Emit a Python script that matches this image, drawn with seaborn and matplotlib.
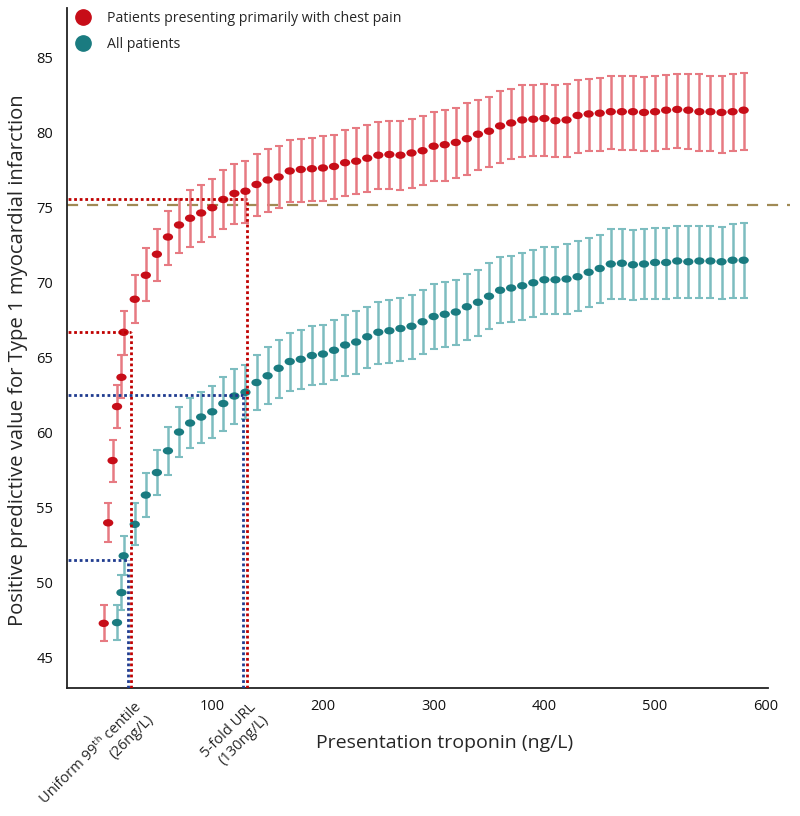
import numpy as np
import pandas as pd
import matplotlib
matplotlib.use("Agg")
import matplotlib.pyplot as plt
import matplotlib.transforms as mtransforms
import seaborn as sns
from matplotlib.path import Path
from matplotlib.lines import Line2D

# --- datos (PPV %, IC95) ---
red_x = [2, 6, 10, 14, 18, 20,
         30, 40, 50, 60, 70, 80, 90, 100, 110, 120, 130, 140, 150, 160, 170, 180, 190,
         200, 210, 220, 230, 240, 250, 260, 270, 280, 290, 300, 310, 320, 330, 340, 350,
         360, 370, 380, 390, 400, 410, 420, 430, 440, 450, 460, 470, 480, 490, 500, 510,
         520, 530, 540, 550, 560, 570, 580]
red_ppv = [47.3, 54.0, 58.15, 61.75, 63.7, 66.7,
           68.9, 70.5, 71.9, 73.05, 73.85, 74.3, 74.65, 75.0, 75.55, 75.95, 76.1, 76.55,
           76.85, 77.05, 77.45, 77.55, 77.6, 77.65, 77.75, 78.0, 78.1, 78.3, 78.5, 78.55,
           78.5, 78.65, 78.8, 79.1, 79.2, 79.35, 79.6, 79.9, 80.1, 80.45, 80.65, 80.85,
           80.9, 80.95, 80.8, 80.85, 81.15, 81.25, 81.3, 81.4, 81.4, 81.4, 81.35, 81.4,
           81.5, 81.55, 81.5, 81.4, 81.4, 81.35, 81.4, 81.5]
red_lo = [46.1, 52.75, 56.75, 60.3, 62.3, 65.2,
          67.3, 68.8, 70.1, 71.2, 71.95, 72.4, 72.7, 73.05, 73.55, 73.9, 74.0, 74.45,
          74.7, 74.95, 75.35, 75.4, 75.45, 75.45, 75.6, 75.75, 75.9, 76.05, 76.25, 76.25,
          76.2, 76.3, 76.5, 76.75, 76.8, 76.95, 77.2, 77.5, 77.7, 78.0, 78.25, 78.4,
          78.45, 78.45, 78.35, 78.35, 78.65, 78.8, 78.8, 78.9, 78.85, 78.85, 78.75, 78.8,
          78.9, 78.95, 78.9, 78.8, 78.75, 78.65, 78.8, 78.85]
red_hi = [48.5, 55.35, 59.5, 63.2, 65.2, 68.15,
          70.5, 72.3, 73.6, 74.8, 75.6, 76.2, 76.5, 76.9, 77.5, 77.9, 78.1, 78.6,
          78.9, 79.1, 79.5, 79.6, 79.65, 79.8, 79.85, 80.15, 80.3, 80.5, 80.7, 80.8,
          80.75, 80.9, 81.1, 81.4, 81.5, 81.65, 81.95, 82.2, 82.4, 82.75, 82.9, 83.15,
          83.2, 83.25, 83.2, 83.25, 83.5, 83.6, 83.65, 83.8, 83.75, 83.75, 83.7, 83.8,
          83.85, 83.9, 83.9, 83.9, 83.8, 83.8, 83.9, 84.0]

teal_x = [14, 18, 20,
          30, 40, 50, 60, 70, 80, 90, 100, 110, 120, 130, 140, 150, 160, 170, 180, 190,
          200, 210, 220, 230, 240, 250, 260, 270, 280, 290, 300, 310, 320, 330, 340, 350,
          360, 370, 380, 390, 400, 410, 420, 430, 440, 450, 460, 470, 480, 490, 500, 510,
          520, 530, 540, 550, 560, 570, 580]
teal_ppv = [47.35, 49.35, 51.8,
            53.9, 55.85, 57.35, 58.8, 60.05, 60.65, 61.05, 61.4, 61.95, 62.45, 62.7, 63.35,
            63.8, 64.3, 64.75, 64.9, 65.15, 65.25, 65.5, 65.85, 66.05, 66.4, 66.7, 66.8,
            66.95, 67.1, 67.4, 67.75, 67.9, 68.05, 68.4, 68.7, 69.1, 69.5, 69.65, 69.8,
            70.0, 70.2, 70.2, 70.25, 70.4, 70.7, 70.95, 71.25, 71.3, 71.2, 71.25, 71.35,
            71.35, 71.45, 71.4, 71.45, 71.45, 71.4, 71.5, 71.5]
teal_lo = [46.2, 48.2, 50.5,
           52.5, 54.4, 55.85, 57.2, 58.4, 59.0, 59.3, 59.65, 60.15, 60.6, 60.9, 61.5,
           61.95, 62.35, 62.8, 62.9, 63.2, 63.25, 63.5, 63.8, 63.95, 64.3, 64.6, 64.65,
           64.8, 64.95, 65.25, 65.6, 65.7, 65.85, 66.2, 66.45, 66.9, 67.3, 67.4, 67.55,
           67.75, 67.95, 67.95, 67.95, 68.1, 68.4, 68.65, 68.9, 68.95, 68.85, 68.9, 68.95,
           68.95, 69.0, 69.0, 69.0, 69.0, 68.9, 69.0, 69.0]
teal_hi = [48.5, 50.5, 53.1,
           55.3, 57.35, 58.85, 60.4, 61.7, 62.3, 62.75, 63.1, 63.7, 64.25, 64.5, 65.2,
           65.7, 66.2, 66.65, 66.85, 67.1, 67.2, 67.5, 67.85, 68.15, 68.4, 68.75, 68.85,
           69.0, 69.2, 69.55, 69.9, 70.05, 70.2, 70.6, 70.85, 71.3, 71.7, 71.8, 72.0,
           72.2, 72.4, 72.4, 72.55, 72.75, 72.95, 73.2, 73.55, 73.55, 73.5, 73.6, 73.65,
           73.65, 73.8, 73.75, 73.8, 73.8, 73.7, 73.9, 73.95]

groups = ["Patients presenting primarily with chest pain", "All patients"]

# umbrales de referencia y PPV en cada uno
ref_thresholds = [26, 130]
ref_label_l1 = ["Uniform 99ᵗʰ centile", "5-fold URL"]
ref_label_l2 = ["(26ng/L)", "(130ng/L)"]
ref_ppv_chest = [66.7, 75.6]
ref_ppv_all = [51.5, 62.5]
target_ppv = 75.2

xticks = [100, 200, 300, 400, 500, 600]
yticks = [45, 50, 55, 60, 65, 70, 75, 80, 85]

RED = "#C70D18"
RED_BAR = "#E77A82"
TEAL = "#1A7B80"
TEAL_BAR = "#7DBDC0"
RED_REF = "#C00000"
BLUE_REF = "#1F3B8F"
BROWN = "#A08A55"

sns.set_theme(style="white")
plt.rcParams["font.family"] = ["Open Sans", "DejaVu Sans"]

df = pd.concat([
    pd.DataFrame({"x": red_x, "ppv": red_ppv, "lo": red_lo, "hi": red_hi, "grupo": groups[0]}),
    pd.DataFrame({"x": teal_x, "ppv": teal_ppv, "lo": teal_lo, "hi": teal_hi, "grupo": groups[1]}),
])

fig = plt.figure(figsize=(8, 8.16), dpi=100)
ax = fig.add_axes([0.084, 0.157, 0.876, 0.833])

# marcador ovalado (más ancho que alto)
circ = Path.unit_circle()
oval = Path(circ.vertices * np.array([1.0, 0.72]), circ.codes)

for g, bar_col in zip(groups, [RED_BAR, TEAL_BAR]):
    sub = df[df["grupo"] == g]
    ax.errorbar(sub["x"], sub["ppv"],
                yerr=[sub["ppv"] - sub["lo"], sub["hi"] - sub["ppv"]],
                fmt="none", ecolor=bar_col, elinewidth=1.8, capsize=3.2,
                capthick=1.5, zorder=2)

sns.scatterplot(data=df, x="x", y="ppv", hue="grupo", palette=[RED, TEAL],
                marker=oval, s=55, edgecolor="none", legend=False, ax=ax, zorder=3)

# líneas de referencia (la azul un poco desplazada para que se vean ambas)
dot = (0, (1, 1))
for thr, pc, pa in zip(ref_thresholds, ref_ppv_chest, ref_ppv_all):
    ax.plot([-40, thr + 1], [pc, pc], color=RED_REF, lw=2, ls=dot, zorder=4)
    ax.plot([thr + 1, thr + 1], [43, pc], color=RED_REF, lw=2, ls=dot, zorder=4)
    ax.plot([-40, thr - 2], [pa, pa], color=BLUE_REF, lw=2, ls=dot, zorder=4)
    ax.plot([thr - 2, thr - 2], [43, pa], color=BLUE_REF, lw=2, ls=dot, zorder=4)

ax.axhline(target_ppv, xmin=0, xmax=1.032, color=BROWN, lw=1.6,
           ls=(0, (5, 4)), clip_on=False, zorder=1)

ax.set_xlim(-31, 602)
ax.set_ylim(43, 88.3)
ax.set_xticks(xticks)
ax.set_yticks(yticks)
ax.tick_params(axis="both", length=0, labelsize=10.5, colors="#111111", pad=10)
ax.tick_params(axis="x", pad=8)

for side in ["top", "right"]:
    ax.spines[side].set_visible(False)
for side in ["left", "bottom"]:
    ax.spines[side].set_color("#222222")
    ax.spines[side].set_linewidth(1.3)

ax.set_xlabel("Presentation troponin (ng/L)", fontsize=14)
ax.xaxis.set_label_coords(0.538, -0.068)
ax.set_ylabel("Positive predictive value for Type 1 myocardial infarction",
              fontsize=14.6)
ax.yaxis.set_label_coords(-0.056, 0.482)

# etiquetas rotadas de los umbrales: una línea por texto, la segunda desplazada
# perpendicularmente hacia abajo-derecha
line2_tr = mtransforms.offset_copy(ax.transData, fig=fig, x=9.0, y=-9.0, units="points")
for thr, l1, l2 in zip(ref_thresholds, ref_label_l1, ref_label_l2):
    ax.text(thr + 3, 42.2, l1, rotation=45, ha="right", va="top",
            fontsize=10.5, rotation_mode="anchor")
    ax.text(thr + 3, 42.2, l2, rotation=45, ha="right", va="top",
            fontsize=10.5, rotation_mode="anchor", transform=line2_tr)

handles = [Line2D([], [], ls="none", marker="o", ms=11, color=c) for c in [RED, TEAL]]
ax.legend(handles, groups, loc="upper left", bbox_to_anchor=(-0.008, 1.006),
          frameon=False, fontsize=10.2, handletextpad=0.7, labelspacing=0.75,
          borderaxespad=0.1)

fig.savefig("out.png", dpi=100)
